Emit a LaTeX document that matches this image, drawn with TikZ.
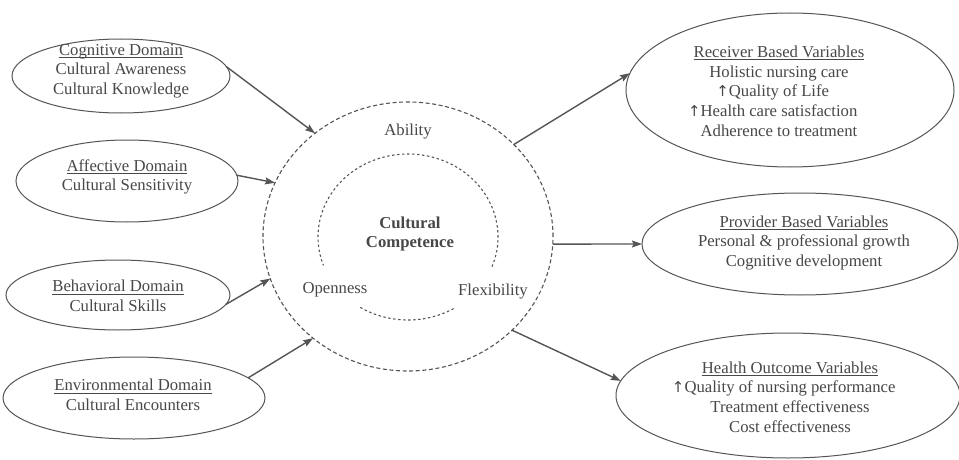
\documentclass[tikz,border=0pt]{standalone}
\usepackage{fontspec}
\setmainfont{Liberation Serif}
\newfontfamily\arrfont{DejaVu Sans}
\usetikzlibrary{shapes.geometric,arrows.meta}
\definecolor{inkc}{HTML}{484848}
\definecolor{linec}{HTML}{555555}
\newcommand\ulin[1]{\setbox0\hbox{#1}\rlap{\rule[-2.6pt]{\wd0}{0.6pt}}\box0}
\newcommand\uparr{\llap{{\arrfont\fontsize{15}{15}\selectfont ↑}}}
\begin{document}
\begin{tikzpicture}[x=1pt,y=1pt,
  oval/.style={ellipse,draw=linec,line width=1pt,inner sep=0pt,outer sep=0pt},
  txt/.style={align=center,text=inkc,inner sep=0pt,font=\fontsize{16.7}{19.7}\selectfont},
  arr/.style={draw=linec,line width=1.4pt,-{Stealth[length=10pt,width=7pt,inset=1.5pt]}},
  outerdash/.style={draw=linec,line width=1.1pt,dash pattern=on 4pt off 2.6pt},
  innerdash/.style={draw=linec,line width=1.1pt,dash pattern=on 2.4pt off 2.6pt}]
\fill[white] (0,0) rectangle (959,459);
\useasboundingbox (0,0) rectangle (959,459);

% left domain ellipses
\node[oval,minimum width=218,minimum height=74] (cog) at (121,383) {};
\node[oval,minimum width=222,minimum height=82] (aff) at (127,278) {};
\node[oval,minimum width=224,minimum height=70] (beh) at (118,164) {};
\node[oval,minimum width=262,minimum height=82] (env) at (134,61) {};
\node[txt] (cogT) at (121,388) {\ulin{Cognitive Domain}\\Cultural Awareness\\Cultural Knowledge};
\node[txt] (affT) at (127,282) {\ulin{Affective Domain}\\Cultural Sensitivity};
\node[txt] (behT) at (118,163) {\ulin{Behavioral Domain}\\Cultural Skills};
\node[txt] (envT) at (133,64) {\ulin{Environmental Domain}\\Cultural Encounters};

% central circle
\node[ellipse,outerdash,inner sep=0pt,outer sep=0pt,minimum width=290,minimum height=269] (cc) at (408,222.5) {};
\coordinate (ic) at (408,222);
\draw[innerdash] ([shift={(-21:90pt and 83pt)}]ic) arc[start angle=-21,end angle=200,x radius=90pt,y radius=83pt];
\draw[innerdash] ([shift={(238:90pt and 83pt)}]ic) arc[start angle=238,end angle=302,x radius=90pt,y radius=83pt];
\node[txt,font=\fontsize{16.7}{19.7}\selectfont\bfseries] (ccT) at (410,225) {Cultural\\Competence};
\node[txt] (abil) at (408,327) {Ability};
\node[txt] (open) at (335,169) {Openness};
\node[txt] (flex) at (493,167) {Flexibility};

% right outcome ellipses
\node[oval,minimum width=328,minimum height=154] (rec) at (790,369) {};
\node[oval,minimum width=316,minimum height=102] (prov) at (800,215) {};
\node[oval,minimum width=344,minimum height=125] (hlth) at (788,63.5) {};
\node[txt] (recT) at (779,368) {\ulin{Receiver Based Variables}\\Holistic nursing care\\\uparr Quality of Life\\\uparr Health care satisfaction\\Adherence to treatment};
\node[txt] (provT) at (804,216) {\ulin{Provider Based Variables}\\Personal \& professional growth\\Cognitive development};
\node[txt] (hlthT) at (790,62) {\ulin{Health Outcome Variables}\\\uparr Quality of nursing performance\\Treatment effectiveness\\Cost effectiveness};

% connectors
\draw[arr] (cog.5) -- (cc.132);
\draw[arr] (aff.3) -- (cc.158);
\draw[arr] (beh.-5) -- (cc.197.4);
\draw[arr] (env.10) -- (cc.227.5);
\draw[arr] (cc.41.6) -- (rec.174.8);
\draw[arr] (cc.-3) -- (prov.180);
\draw[arr] (cc.-42) -- (hlth.175);
\end{tikzpicture}
\end{document}
